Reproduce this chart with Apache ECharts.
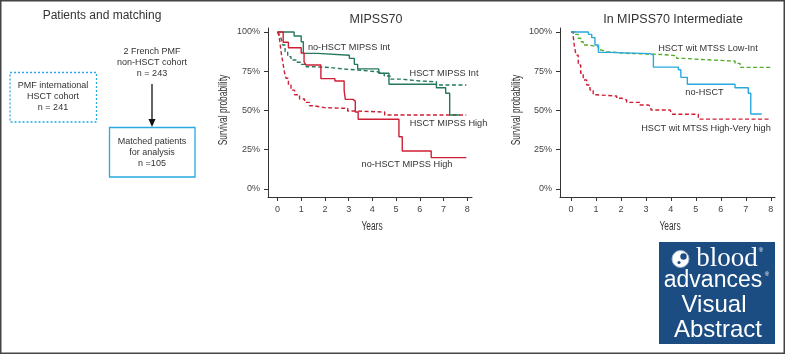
<!DOCTYPE html>
<html><head><meta charset="utf-8">
<script src="https://cdn.jsdelivr.net/npm/echarts@6/dist/echarts.min.js"></script>
<style>html,body{margin:0;padding:0;background:#fff}#c{width:785px;height:354px}</style>
</head><body><div id="c"></div>
<script>
// ---- tick labels ----
const xTicks = [0, 1, 2, 3, 4, 5, 6, 7, 8];
const yTicks = [0, 0.25, 0.5, 0.75, 1];

// ---- MIPSS70 panel ----
const noHsctIntT  = [0, 0.7, 1.0, 1.09, 1.7, 3.03, 3.24, 3.38, 4.27, 4.7, 6.7, 7.09, 7.26, 7.68];
const noHsctIntS  = [1, 0.975, 0.938, 0.864, 0.852, 0.832, 0.794, 0.765, 0.737, 0.667, 0.645, 0.61, 0.471, 0.471];
const noHsctHighT = [0, 0.24, 0.46, 1.0, 1.12, 1.2, 1.83, 2.42, 2.81, 2.86, 3.18, 3.28, 3.4, 5.12, 5.26, 6.48, 7.96];
const noHsctHighS = [1, 0.935, 0.9, 0.866, 0.81, 0.79, 0.703, 0.688, 0.628, 0.571, 0.56, 0.49, 0.444, 0.333, 0.242, 0.2, 0.2];
const hsctIntT    = [0, 0.08, 0.15, 0.22, 0.32, 0.43, 0.57, 0.78, 1.0, 1.21, 1.49, 2.26, 2.82, 3.38, 4.2, 4.5, 4.75, 5.2, 6.0, 6.7, 7.96];
const hsctIntS    = [1, 0.985, 0.96, 0.917, 0.875, 0.843, 0.822, 0.807, 0.794, 0.779, 0.773, 0.764, 0.758, 0.747, 0.735, 0.72, 0.70, 0.688, 0.683, 0.662, 0.662];
const hsctHighT   = [0, 0.04, 0.08, 0.15, 0.22, 0.29, 0.36, 0.46, 0.57, 0.72, 0.93, 1.14, 1.35, 1.56, 1.98, 2.82, 2.96, 3.24, 4.52, 7.96];
const hsctHighS   = [1, 0.985, 0.96, 0.875, 0.81, 0.747, 0.705, 0.662, 0.63, 0.6, 0.573, 0.552, 0.53, 0.518, 0.514, 0.514, 0.497, 0.49, 0.471, 0.471];

// ---- MIPSS70 Intermediate panel ----
const noHsctT   = [0, 0.7, 0.83, 0.96, 1.1, 1.5, 3.17, 3.3, 4.3, 4.4, 4.66, 6.57, 7.1, 7.2, 7.64];
const noHsctS   = [1, 0.985, 0.964, 0.917, 0.87, 0.862, 0.853, 0.776, 0.76, 0.711, 0.667, 0.645, 0.61, 0.478, 0.478];
const lowIntT   = [0, 0.16, 0.29, 0.39, 0.49, 0.69, 1.1, 1.23, 1.43, 2.23, 3.03, 3.7, 4.23, 4.5, 5.1, 6.23, 6.57, 6.77, 7.97];
const lowIntS   = [1, 0.985, 0.96, 0.938, 0.917, 0.906, 0.885, 0.875, 0.864, 0.86, 0.856, 0.849, 0.832, 0.826, 0.817, 0.815, 0.8, 0.775, 0.77];
const highVhT   = [0, 0.09, 0.13, 0.2, 0.29, 0.39, 0.49, 0.63, 0.76, 0.89, 1.03, 1.83, 2.03, 2.23, 2.76, 3.1, 3.2, 3.97, 4.04, 5.1, 7.97];
const highVhS   = [1, 0.97, 0.917, 0.853, 0.79, 0.737, 0.694, 0.662, 0.631, 0.6, 0.592, 0.578, 0.567, 0.552, 0.535, 0.525, 0.503, 0.497, 0.476, 0.445, 0.445];

const GREEN = '#24795a', RED = '#cf1f36', BLUE = '#2aa8e0', LGREEN = '#56ad2c';
const FONT = '"Liberation Sans", Arial, sans-serif';

function pairs(t, s) { return t.map((v, i) => [v, s[i]]); }
function km(name, t, s, color, dashed, idx) {
  return {
    name, type: 'line', step: 'end', xAxisIndex: idx, yAxisIndex: idx,
    data: pairs(t, s), showSymbol: false, symbol: 'none', silent: true,
    lineStyle: { color, width: 1.4, type: dashed ? [4, 2.5] : 'solid' }
  };
}
function xAx(idx, min, max) {
  return {
    type: 'value', gridIndex: idx, min, max,
    axisLine: { onZero: false, lineStyle: { color: '#333', width: 1 } },
    axisTick: { length: 4, customValues: xTicks, lineStyle: { color: '#333' } },
    axisLabel: { customValues: xTicks, margin: 8, fontFamily: FONT, fontSize: 9, color: '#444' },
    splitLine: { show: false }
  };
}
function yAx(idx) {
  return {
    type: 'value', gridIndex: idx, min: -0.051, max: 1.0255,
    axisLine: { show: true, onZero: false, lineStyle: { color: '#333', width: 1 } },
    axisTick: { show: true, length: 4, customValues: yTicks, lineStyle: { color: '#333' } },
    axisLabel: { customValues: yTicks, margin: 8, fontFamily: FONT, fontSize: 9, color: '#444',
      formatter: v => Math.round(v * 100) + '%' },
    splitLine: { show: false }
  };
}
function txt(text, x, y, size, opts) {
  return { type: 'text', silent: true, style: Object.assign({
    text, x, y, font: (size || 9) + 'px ' + FONT, fill: '#333',
    textAlign: 'center', textVerticalAlign: 'middle' }, (opts || {})) };
}
// condensed axis title (scaled along the text direction)
function narrow(text, x, y, rot) {
  return { type: 'text', silent: true, x, y, rotation: rot ? Math.PI / 2 : 0, scaleX: 0.7,
    style: { text, x: 0, y: 0, font: '12px ' + FONT, fill: '#333',
      textAlign: 'center', textVerticalAlign: 'middle' } };
}

const chart = echarts.init(document.getElementById('c'), null, { renderer: 'canvas' });
chart.setOption({
  animation: false,
  backgroundColor: '#fff',
  title: [
    { text: 'MIPSS70', left: 371, top: 15, textAlign: 'center', textVerticalAlign: 'middle',
      textStyle: { fontFamily: FONT, fontSize: 12.5, fontWeight: 'normal', color: '#333' } },
    { text: 'In MIPSS70 Intermediate', left: 668, top: 15, textAlign: 'center', textVerticalAlign: 'middle',
      textStyle: { fontFamily: FONT, fontSize: 12.5, fontWeight: 'normal', color: '#333' } }
  ],
  grid: [
    { left: 268, top: 28, width: 204, height: 169 },
    { left: 560, top: 28, width: 215, height: 169 }
  ],
  xAxis: [xAx(0, -0.4, 8.2), xAx(1, -0.44, 8.17)],
  yAxis: [yAx(0), yAx(1)],
  series: [
    km('HSCT MIPSS Int', hsctIntT, hsctIntS, GREEN, true, 0),
    km('HSCT MIPSS High', hsctHighT, hsctHighS, RED, true, 0),
    km('no-HSCT MIPSS Int', noHsctIntT, noHsctIntS, GREEN, false, 0),
    km('no-HSCT MIPSS High', noHsctHighT, noHsctHighS, RED, false, 0),
    km('HSCT wit MTSS Low-Int', lowIntT, lowIntS, LGREEN, true, 1),
    km('HSCT wit MTSS High-Very high', highVhT, highVhS, RED, true, 1),
    km('no-HSCT', noHsctT, noHsctS, BLUE, false, 1)
  ],
  graphic: [
    // outer frame
    { type: 'rect', silent: true, shape: { x: 0.75, y: 0.75, width: 783.5, height: 352.5 },
      style: { fill: 'none', stroke: '#444', lineWidth: 1.5 } },
    // axis titles
    narrow('Years', 372, 227, false),
    narrow('Years', 670, 227, false),
    narrow('Survival probability', 224, 110, true),
    narrow('Survival probability', 517, 110, true),
    // left panel
    txt('Patients and matching', 102, 16, 12),
    { type: 'rect', silent: true, shape: { x: 10, y: 72.5, width: 86.5, height: 49.5 },
      style: { fill: 'none', stroke: BLUE, lineWidth: 1.3, lineDash: [2, 2] } },
    txt('PMF international', 53, 86),
    txt('HSCT cohort', 53, 97),
    txt('n = 241', 53, 108),
    txt('2 French PMF', 152, 52),
    txt('non-HSCT cohort', 152, 63),
    txt('n = 243', 152, 74),
    { type: 'line', silent: true, shape: { x1: 152, y1: 84, x2: 152, y2: 121 },
      style: { stroke: '#111', lineWidth: 1.3 } },
    { type: 'polygon', silent: true, shape: { points: [[148.5, 119], [155.5, 119], [152, 127]] },
      style: { fill: '#111' } },
    { type: 'rect', silent: true, shape: { x: 109.5, y: 127.5, width: 85.5, height: 49.5 },
      style: { fill: 'none', stroke: BLUE, lineWidth: 1.3 } },
    txt('Matched patients', 152, 142),
    txt('for analysis', 152, 153),
    txt('n =105', 152, 164),
    // curve annotations
    txt('no-HSCT MIPSS Int', 349, 47, 9.2),
    txt('HSCT MIPSS Int', 444, 73, 9.2),
    txt('HSCT MIPSS High', 448.5, 123, 9.2),
    txt('no-HSCT MIPSS High', 407, 164, 9.2),
    txt('HSCT wit MTSS Low-Int', 708, 48, 9.2),
    txt('no-HSCT', 704.5, 92, 9.2),
    txt('HSCT wit MTSS High-Very high', 706, 128, 9.2),
    // logo
    { type: 'rect', silent: true, shape: { x: 659, y: 242, width: 116, height: 102 },
      style: { fill: '#1b4c82' } },
    { type: 'circle', silent: true, shape: { cx: 680.5, cy: 259, r: 8.5 },
      style: { fill: '#fff', stroke: '#9db4cf', lineWidth: 1 } },
    { type: 'circle', silent: true, shape: { cx: 683.5, cy: 256.5, r: 3.2 },
      style: { fill: '#1b4c82' } },
    { type: 'circle', silent: true, shape: { cx: 679, cy: 262.5, r: 1.6 },
      style: { fill: '#1b4c82' } },
    txt('blood', 727, 259, 27, { font: '27px "Liberation Serif", "Times New Roman", serif', fill: '#fff' }),
    txt('®', 761, 250, 6, { fill: '#fff' }),
    txt('advances', 713, 281, 23, { fill: '#fff' }),
    txt('®', 767, 274, 6, { fill: '#fff' }),
    txt('Visual', 714, 305, 24, { fill: '#fff' }),
    txt('Abstract', 718, 330, 24, { fill: '#fff' })
  ]
});
</script></body></html>
